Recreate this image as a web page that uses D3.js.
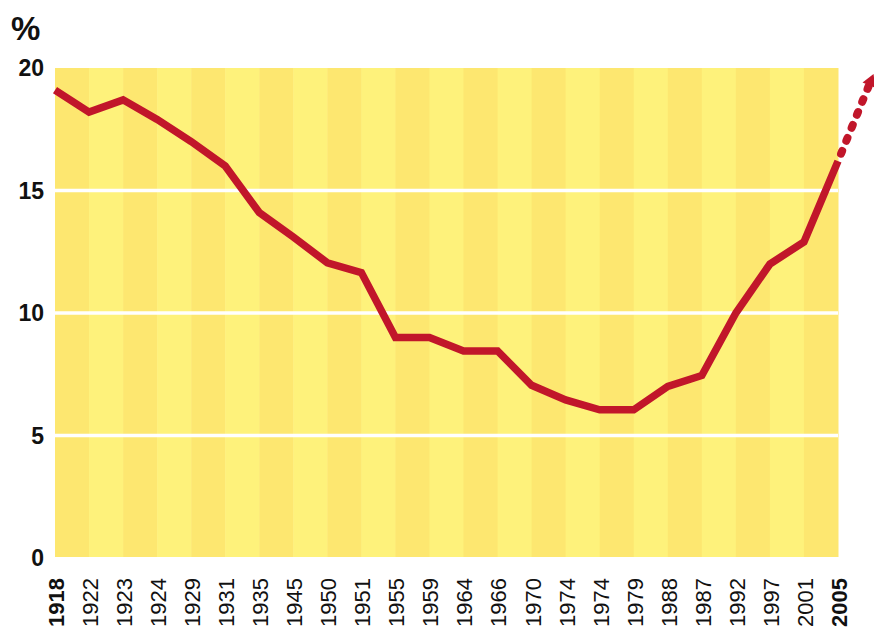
<!DOCTYPE html>
<html>
<head>
<meta charset="utf-8">
<script src="https://cdn.jsdelivr.net/npm/d3@7"></script>
<style>
  body { margin: 0; background: #fff; }
  svg { display: block; font-family: "Liberation Sans", Arial, sans-serif; }
</style>
</head>
<body>
<svg id="chart" width="874" height="640"></svg>
<script>
// years as printed on the chart (order kept as in the source)
const years = ["1918", "1922", "1923", "1924", "1929", "1931", "1935", "1945", "1950", "1951",
  "1955", "1959", "1964", "1966", "1970", "1974", "1974", "1979", "1988", "1987",
  "1992", "1997", "2001", "2005"];
const shares = [19.1, 18.2, 18.7, 17.9, 17.0, 16.0, 14.1, 13.1, 12.05, 11.65,
  9.0, 9.0, 8.45, 8.45, 7.05, 6.45, 6.05, 6.05, 7.0, 7.45,
  10.0, 12.0, 12.9, 16.2];
const projection = 19.6;   // dotted trend beyond 2005
const yTicks = [0, 5, 10, 15, 20];
const gridTicks = [5, 10, 15];
const boldYears = [0, years.length - 1];

const svg = d3.select("#chart");
const mLeft = 55, mRight = 838, mTop = 68, mBottom = 558;

const x = d3.scaleLinear().domain([0, years.length - 1]).range([mLeft, mRight]);
const y = d3.scaleLinear().domain([0, 20]).range([mBottom, mTop]);

// stripes
svg.append("g")
  .selectAll("rect")
  .data(d3.range(years.length - 1))
  .join("rect")
  .attr("x", i => x(i))
  .attr("y", y(20))
  .attr("width", i => x(i + 1) - x(i) + 0.5)
  .attr("height", y(0) - y(20) - 1)
  .attr("fill", i => i % 2 === 0 ? "#fde770" : "#fef27b");

// white grid lines
svg.append("g")
  .selectAll("line")
  .data(gridTicks)
  .join("line")
  .attr("x1", mLeft)
  .attr("x2", mRight)
  .attr("y1", d => y(d))
  .attr("y2", d => y(d))
  .attr("stroke", "#fff")
  .attr("stroke-width", 3.5);

// y labels
svg.append("g")
  .selectAll("text")
  .data(yTicks)
  .join("text")
  .attr("x", 44)
  .attr("y", d => y(d))
  .attr("dy", "0.36em")
  .attr("text-anchor", "end")
  .attr("font-size", 23)
  .attr("font-weight", "bold")
  .attr("fill", "#111")
  .text(d => d);

svg.append("text")
  .attr("x", 11)
  .attr("y", 40)
  .attr("font-size", 33)
  .attr("font-weight", "bold")
  .attr("fill", "#111")
  .text("%");

// x labels, rotated
svg.append("g")
  .selectAll("text")
  .data(years)
  .join("text")
  .attr("transform", (d, i) => `translate(${x(i) + 1},578) rotate(-90)`)
  .attr("dy", "0.36em")
  .attr("text-anchor", "end")
  .attr("font-size", 22)
  .attr("font-weight", (d, i) => boldYears.includes(i) ? "bold" : "normal")
  .attr("fill", "#111")
  .text(d => d);

const red = "#c1162a";

// main line
const line = d3.line()
  .x((d, i) => x(i))
  .y(d => y(d));

svg.append("path")
  .datum(shares)
  .attr("d", line)
  .attr("fill", "none")
  .attr("stroke", red)
  .attr("stroke-width", 7.5)
  .attr("stroke-linejoin", "miter");

// dotted projection with arrow
const n = years.length - 1;
const x0 = x(n), y0 = y(shares[n]);
const x1 = x(n + 1), y1 = y(projection);
const ang = Math.atan2(y1 - y0, x1 - x0);
const headLen = 12;
const tipX = x1 + Math.cos(ang) * 4, tipY = y1 + Math.sin(ang) * 4;
const baseX = tipX - Math.cos(ang) * headLen, baseY = tipY - Math.sin(ang) * headLen;

svg.append("line")
  .attr("x1", x0 + Math.cos(ang) * 8)
  .attr("y1", y0 + Math.sin(ang) * 8)
  .attr("x2", baseX)
  .attr("y2", baseY)
  .attr("stroke", red)
  .attr("stroke-width", 8)
  .attr("stroke-linecap", "round")
  .attr("stroke-dasharray", "3 11");

const px = -Math.sin(ang), py = Math.cos(ang);
svg.append("path")
  .attr("d", `M${tipX},${tipY} L${baseX + px * 7},${baseY + py * 7} L${baseX - px * 7},${baseY - py * 7} Z`)
  .attr("fill", red);
</script>
</body>
</html>
